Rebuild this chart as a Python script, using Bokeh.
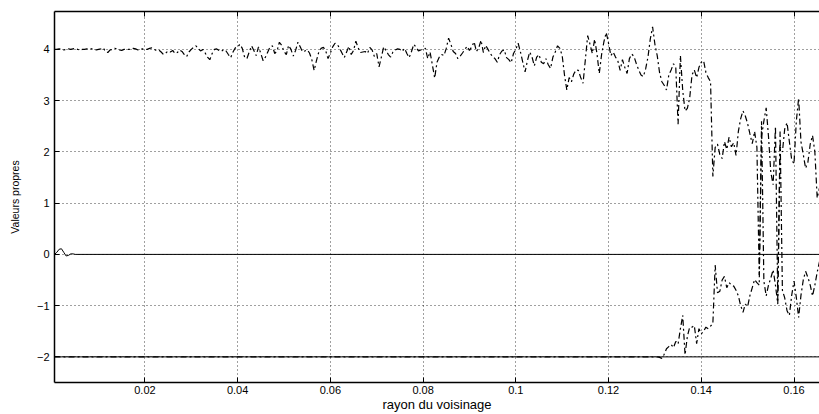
from bokeh.plotting import figure
from bokeh.models import Range1d, LinearAxis, FixedTicker, CustomJSTickFormatter, CustomLabelingPolicy
from bokeh.embed import file_html
from bokeh.resources import INLINE

# ---- axes / labels ----
x_start = 0.0005
x_step = 0.0005
x_end = 0.1655
y_min = -2.5
y_max = 4.74
x_ticks = [0.02, 0.04, 0.06, 0.08, 0.10, 0.12, 0.14, 0.16]
y_ticks = [-2, -1, 0, 1, 2, 3, 4]
x_label = "rayon du voisinage"
y_label = "Valeurs propres"

# ---- upper eigenvalue (noisy, ~4), sampled every 0.0005 from 0.0005 ----
up_a = [4.00, 4.00, 4.01, 4.00, 3.99, 4.00, 4.01, 4.00, 4.01, 4.02, 4.00, 3.99, 4.00, 4.00, 4.01, 4.02, 4.01, 4.00, 3.99, 4.00]
up_b = [4.01, 4.03, 3.96, 3.94, 3.99, 4.00, 4.02, 4.01, 3.99, 3.98, 4.00, 4.01, 4.00, 4.00, 4.02, 4.01, 3.99, 4.00, 4.01, 4.00]
up_c = [4.00, 4.02, 4.03, 4.00, 3.98, 3.99, 3.95, 3.90, 3.93, 3.97, 3.95, 3.98, 3.92, 3.94, 3.99, 3.96, 3.90, 3.86, 3.95, 4.00]
up_d = [4.04, 4.07, 4.02, 3.97, 4.00, 3.93, 3.85, 3.80, 3.92, 4.00, 4.01, 3.98, 3.96, 4.00, 3.97, 3.90, 3.84, 3.95, 4.03, 4.05]
up_e = [4.10, 4.02, 3.85, 3.82, 3.95, 4.07, 3.98, 3.88, 4.05, 3.92, 3.78, 3.85, 3.95, 4.05, 4.07, 3.92, 3.97, 4.14, 4.08, 3.96]
up_f = [3.90, 4.08, 4.00, 3.87, 3.98, 4.14, 4.05, 3.95, 3.97, 3.99, 3.93, 3.80, 3.59, 3.78, 3.95, 4.02, 4.04, 3.97, 3.82, 3.93]
up_g = [4.05, 4.12, 4.10, 4.02, 3.93, 3.84, 3.95, 4.06, 3.90, 3.98, 4.16, 4.03, 3.94, 3.95, 3.96, 3.92, 4.04, 3.99, 3.86, 3.92]
up_h = [3.66, 3.85, 4.05, 3.98, 3.90, 3.85, 3.95, 3.99, 4.01, 4.00, 3.96, 4.02, 3.92, 3.84, 3.96, 4.10, 4.04, 3.97, 3.99, 4.01]
up_i = [4.02, 3.82, 3.95, 3.70, 3.44, 3.75, 3.85, 3.90, 3.88, 4.02, 4.22, 4.10, 3.96, 3.92, 3.82, 3.87, 3.93, 4.00, 4.06, 3.98]
up_j = [4.05, 4.15, 3.96, 4.03, 4.18, 3.94, 4.08, 4.00, 3.92, 3.86, 3.82, 3.75, 3.90, 3.97, 3.99, 3.84, 3.80, 3.74, 3.92, 4.00]
up_k = [4.12, 3.95, 3.75, 3.56, 3.78, 3.95, 3.85, 3.68, 3.85, 3.90, 3.75, 3.72, 3.82, 3.70, 3.63, 3.85, 3.95, 4.07, 4.02, 3.88]
up_l = [3.50, 3.21, 3.45, 3.37, 3.52, 3.60, 3.59, 3.45, 3.34, 3.80, 4.27, 4.10, 3.92, 4.20, 3.92, 3.53, 3.90, 4.15, 4.33, 4.12]
up_m = [3.88, 3.95, 3.85, 3.78, 3.59, 3.80, 3.65, 3.53, 3.82, 3.91, 3.86, 3.72, 3.60, 3.50, 3.47, 3.62, 3.85, 4.20, 4.44, 4.10]
up_n = [3.88, 3.55, 3.37, 3.30, 3.21, 3.50, 3.60, 3.72, 3.65, 2.54, 3.88, 3.20, 2.80, 2.85, 3.05, 3.50, 3.60, 3.45, 3.65, 3.75]
up_o = [3.78, 3.55, 3.45, 3.37, 1.52, 2.09, 2.15, 1.95, 1.87, 2.20, 2.05, 2.29, 2.10, 2.18, 1.93, 2.40, 2.65, 2.80, 2.70, 2.55]
up_p = [2.35, 2.16, 2.40, 2.09, -0.40, 2.30, 2.60, 2.86, 2.30, 1.60, 1.36, 2.50, -0.90, 2.10, 2.00, 2.45, 2.57, 2.20, 1.85, 1.77]
up_q = [2.60, 3.05, 2.20, 1.95, 1.68, 1.80, 2.15, 2.32, 2.00, 1.10, 1.30]

# ---- lower noisy eigenvalue (-2 then rising), from 0.13 every 0.0005 ----
low_x0 = 0.13
low_vals = [-2.00, -2.00, -2.01, -2.03, -1.95, -1.84, -1.80, -1.76, -1.82, -1.70,
            -1.75, -1.45, -1.19, -1.96, -1.60, -1.42, -1.42, -1.39, -1.74, -1.45,
            -1.55, -1.50, -1.42, -1.45, -1.40, -1.35, -0.21, -0.75, -0.72, -0.50,
            -0.43, -0.65, -0.55, -0.60, -0.62, -0.70, -0.81, -1.00, -1.13, -0.97,
            -1.02, -0.80, -0.65, -0.49, -0.55, -0.60, 2.60, -0.52, -0.81, -0.60,
            -0.46, -0.30, -0.60, -0.97, 2.40, -0.70, -0.85, -1.10, -1.19, -0.80,
            -0.52, -0.84, -1.23, -0.80, -0.50, -0.33, -0.45, -0.60, -0.81, -0.60,
            -0.35, -0.14]

# ---- zero eigenvalue (solid, small bump at start) ----
mid_x = [0.0005, 0.001, 0.0015, 0.002, 0.0025, 0.003, 0.0035, 0.004, 0.0045, 0.005, 0.1655]
mid_y = [0.0, 0.04, 0.10, 0.11, 0.04, -0.03, -0.02, 0.01, 0.01, 0.0, 0.0]

# ---- constant eigenvalue -2 (solid) ----
flat_x = [0.0005, 0.1655]
flat_y = [-2.0, -2.0]

upper = up_a + up_b + up_c + up_d + up_e + up_f + up_g + up_h + up_i + up_j + up_k + up_l + up_m + up_n + up_o + up_p + up_q
upper_x = [round(x_start + i * x_step, 5) for i in range(len(upper))]
lower_x = [x_start] + [round(low_x0 + i * x_step, 5) for i in range(len(low_vals))]
lower_y = [-2.0] + low_vals

FONT = "Liberation Sans"

p = figure(width=819, height=414,
           x_range=Range1d(x_start, x_end), y_range=Range1d(y_min, y_max),
           output_backend="svg", toolbar_location=None,
           min_border_left=54, min_border_right=0, min_border_top=5, min_border_bottom=31,
           background_fill_color="white", border_fill_color="white")
p.outline_line_color = None

xt = FixedTicker(ticks=x_ticks)
yt = FixedTicker(ticks=y_ticks)
xfmt = CustomJSTickFormatter(code="return tick.toFixed(2).replace(/0$/, '');")
yfmt = CustomJSTickFormatter(code="return (tick < 0 ? '\u2212' : '') + Math.abs(tick).toFixed(0);")

for ax, tk, fm in ((p.xaxis[0], xt, xfmt), (p.yaxis[0], yt, yfmt)):
    ax.ticker = tk
    ax.formatter = fm
    ax.major_tick_in = 5
    ax.major_tick_out = 0
    ax.minor_tick_line_color = None
    ax.axis_line_width = 1.5
    ax.axis_line_color = "black"
    ax.major_tick_line_color = "black"
    ax.major_label_text_font = FONT
    ax.major_label_text_font_size = "11px"
    ax.major_label_text_color = "black"
    ax.axis_label_text_font = FONT
    ax.axis_label_text_font_style = "normal"
    ax.axis_label_text_color = "black"

p.xaxis[0].axis_label = x_label
p.xaxis[0].axis_label_text_font_size = "13px"
p.xaxis[0].major_label_standoff = 3
p.xaxis[0].axis_label_standoff = 0
p.yaxis[0].axis_label = y_label
p.yaxis[0].axis_label_text_font_size = "10.5px"
p.yaxis[0].major_label_standoff = 5
p.yaxis[0].axis_label_standoff = 13

top_ax = LinearAxis(ticker=xt, major_tick_in=5, major_tick_out=0,
                    major_label_policy=CustomLabelingPolicy(code="return [];"),
                    major_label_standoff=0,
                    minor_tick_line_color=None, axis_line_width=1.5)
p.add_layout(top_ax, "above")

for g, tk in ((p.xgrid[0], xt), (p.ygrid[0], yt)):
    g.ticker = tk
    g.grid_line_color = "black"
    g.grid_line_dash = "1 3"
    g.grid_line_alpha = 0.75
    g.grid_line_width = 1

p.line(flat_x, flat_y, line_color="black", line_width=1)
p.line(mid_x, mid_y, line_color="black", line_width=1)
p.line(lower_x, lower_y, line_color="black", line_width=1.2, line_dash="6 3 2 3")
p.line(upper_x, upper, line_color="black", line_width=1.2, line_dash="6 3 2 3")

open("out.html", "w").write(file_html(p, INLINE))
